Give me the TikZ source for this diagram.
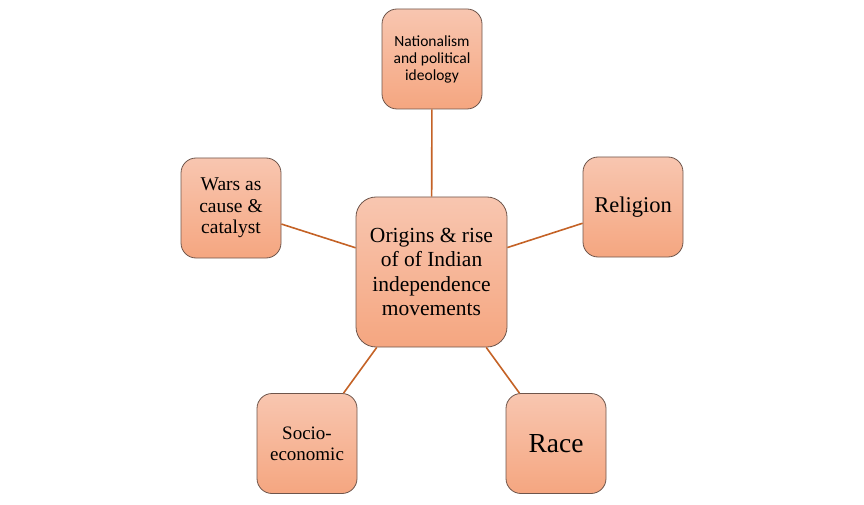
\documentclass[tikz,border=0pt]{standalone}
\usepackage{fontspec}
\setmainfont{Liberation Serif}
\newfontfamily\calib{Carlito}
\definecolor{boxtop}{RGB}{248,198,176}
\definecolor{boxbot}{RGB}{245,166,128}
\definecolor{boxedge}{RGB}{110,85,75}
\definecolor{linkcol}{RGB}{196,98,38}
\tikzset{
  bubble/.style={draw=boxedge, line width=0.8pt, rounded corners=15pt,
    top color=boxtop, bottom color=boxbot, align=center,
    minimum width=100pt, minimum height=100pt, inner sep=2pt},
  hub/.style={bubble, rounded corners=20pt, minimum width=151pt, minimum height=150pt},
  link/.style={draw=linkcol, line width=1.6pt}
}
\begin{document}
\begin{tikzpicture}[x=1pt,y=1pt]
\useasboundingbox (0,0) rectangle (864,504);
\node[hub, font=\fontsize{21.5}{24.5}\selectfont] (c) at (431.5,232) {Origins \& rise\\of of Indian\\independence\\movements};
\node[bubble, font=\calib\fontsize{15.5}{17}\selectfont] (n) at (432,445) {Nationalism\\and political\\ideology};
\node[bubble, font=\fontsize{19.5}{21.5}\selectfont] (w) at (231,296) {Wars as\\cause \&\\catalyst};
\node[bubble, font=\fontsize{22.5}{25}\selectfont] (r) at (633,297) {Religion};
\node[bubble, font=\fontsize{19}{21}\selectfont] (s) at (307,60.5) {Socio-\\economic};
\node[bubble, font=\fontsize{27.5}{30}\selectfont] (ra) at (556,60.5) {Race};
\draw[link] (c) -- (n);
\draw[link] (c) -- (w);
\draw[link] (c) -- (r);
\draw[link] (c) -- (s);
\draw[link] (c) -- (ra);
\end{tikzpicture}
\end{document}
